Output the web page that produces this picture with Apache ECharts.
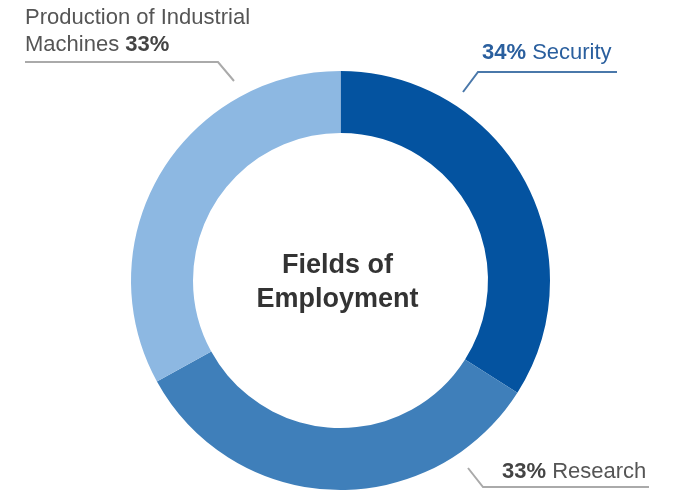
<!DOCTYPE html>
<html>
<head>
<meta charset="utf-8">
<script src="https://cdn.jsdelivr.net/npm/echarts@6/dist/echarts.min.js"></script>
<style>html,body{margin:0;padding:0;background:#fff}#c{width:675px;height:491px}</style>
</head>
<body>
<div id="c"></div>
<script>
const categories = ['Security', 'Research', 'Production of Industrial\nMachines'];
const values = [34, 33, 33];
const colors = ['#0453A0', '#3F7FBA', '#8DB8E2'];
const centerTitle = 'Fields of\nEmployment';

const chart = echarts.init(document.getElementById('c'), null, {renderer: 'canvas'});
const FONT = 'Liberation Sans, Arial, sans-serif';

const labelPos = [
  {x: 482, y: 53, align: 'left', pts: [[463, 92], [478, 72], [617, 72]], line: '#4A78AA'},
  {x: 502, y: 472, align: 'left', pts: [[468, 468], [483, 487], [649, 487]], line: '#AAAAAA'},
  {x: 25, y: 31.5, align: 'left', pts: [[234, 81], [218, 62], [25, 62]], line: '#AAAAAA'}
];

function fmt(p) {
  if (p.dataIndex === 0) return '{bb|' + p.value + '%}{nb| ' + p.name + '}';
  if (p.dataIndex === 1) return '{bg|' + p.value + '%}{ng| ' + p.name + '}';
  const parts = p.name.split('\n');
  return '{ng|' + parts[0] + '}\n{ng|' + parts[1] + ' }{bg|' + p.value + '%}';
}

const rich = {
  bb: {fontFamily: FONT, fontSize: 22, fontWeight: 'bold', color: '#2A5F9E', lineHeight: 27},
  nb: {fontFamily: FONT, fontSize: 22, color: '#2A5F9E', lineHeight: 27},
  bg: {fontFamily: FONT, fontSize: 22, fontWeight: 'bold', color: '#444444', lineHeight: 27},
  ng: {fontFamily: FONT, fontSize: 22, color: '#555555', lineHeight: 27}
};

chart.setOption({
  animation: false,
  graphic: [{
    type: 'text',
    x: 337.5, y: 282.5,
    silent: true,
    style: {
      text: centerTitle,
      align: 'center', verticalAlign: 'middle',
      fontFamily: FONT, fontSize: 27, fontWeight: 'bold', fill: '#333333', lineHeight: 34
    }
  }],
  series: [{
    type: 'pie',
    center: [340.5, 280.5],
    radius: [147.5, 209.5],
    startAngle: 90,
    clockwise: true,
    avoidLabelOverlap: false,
    data: categories.map((c, i) => ({
      name: c, value: values[i],
      itemStyle: {color: colors[i]},
      labelLine: {lineStyle: {color: labelPos[i].line, width: 2}}
    })),
    label: {show: true, position: 'outside', formatter: fmt, rich: rich},
    labelLine: {show: true, length: 10, length2: 10, smooth: false},
    labelLayout: function (params) {
      const l = labelPos[params.dataIndex];
      return {x: l.x, y: l.y, align: l.align, verticalAlign: 'middle', labelLinePoints: l.pts};
    },
    emphasis: {disabled: true}
  }]
});
</script>
</body>
</html>
